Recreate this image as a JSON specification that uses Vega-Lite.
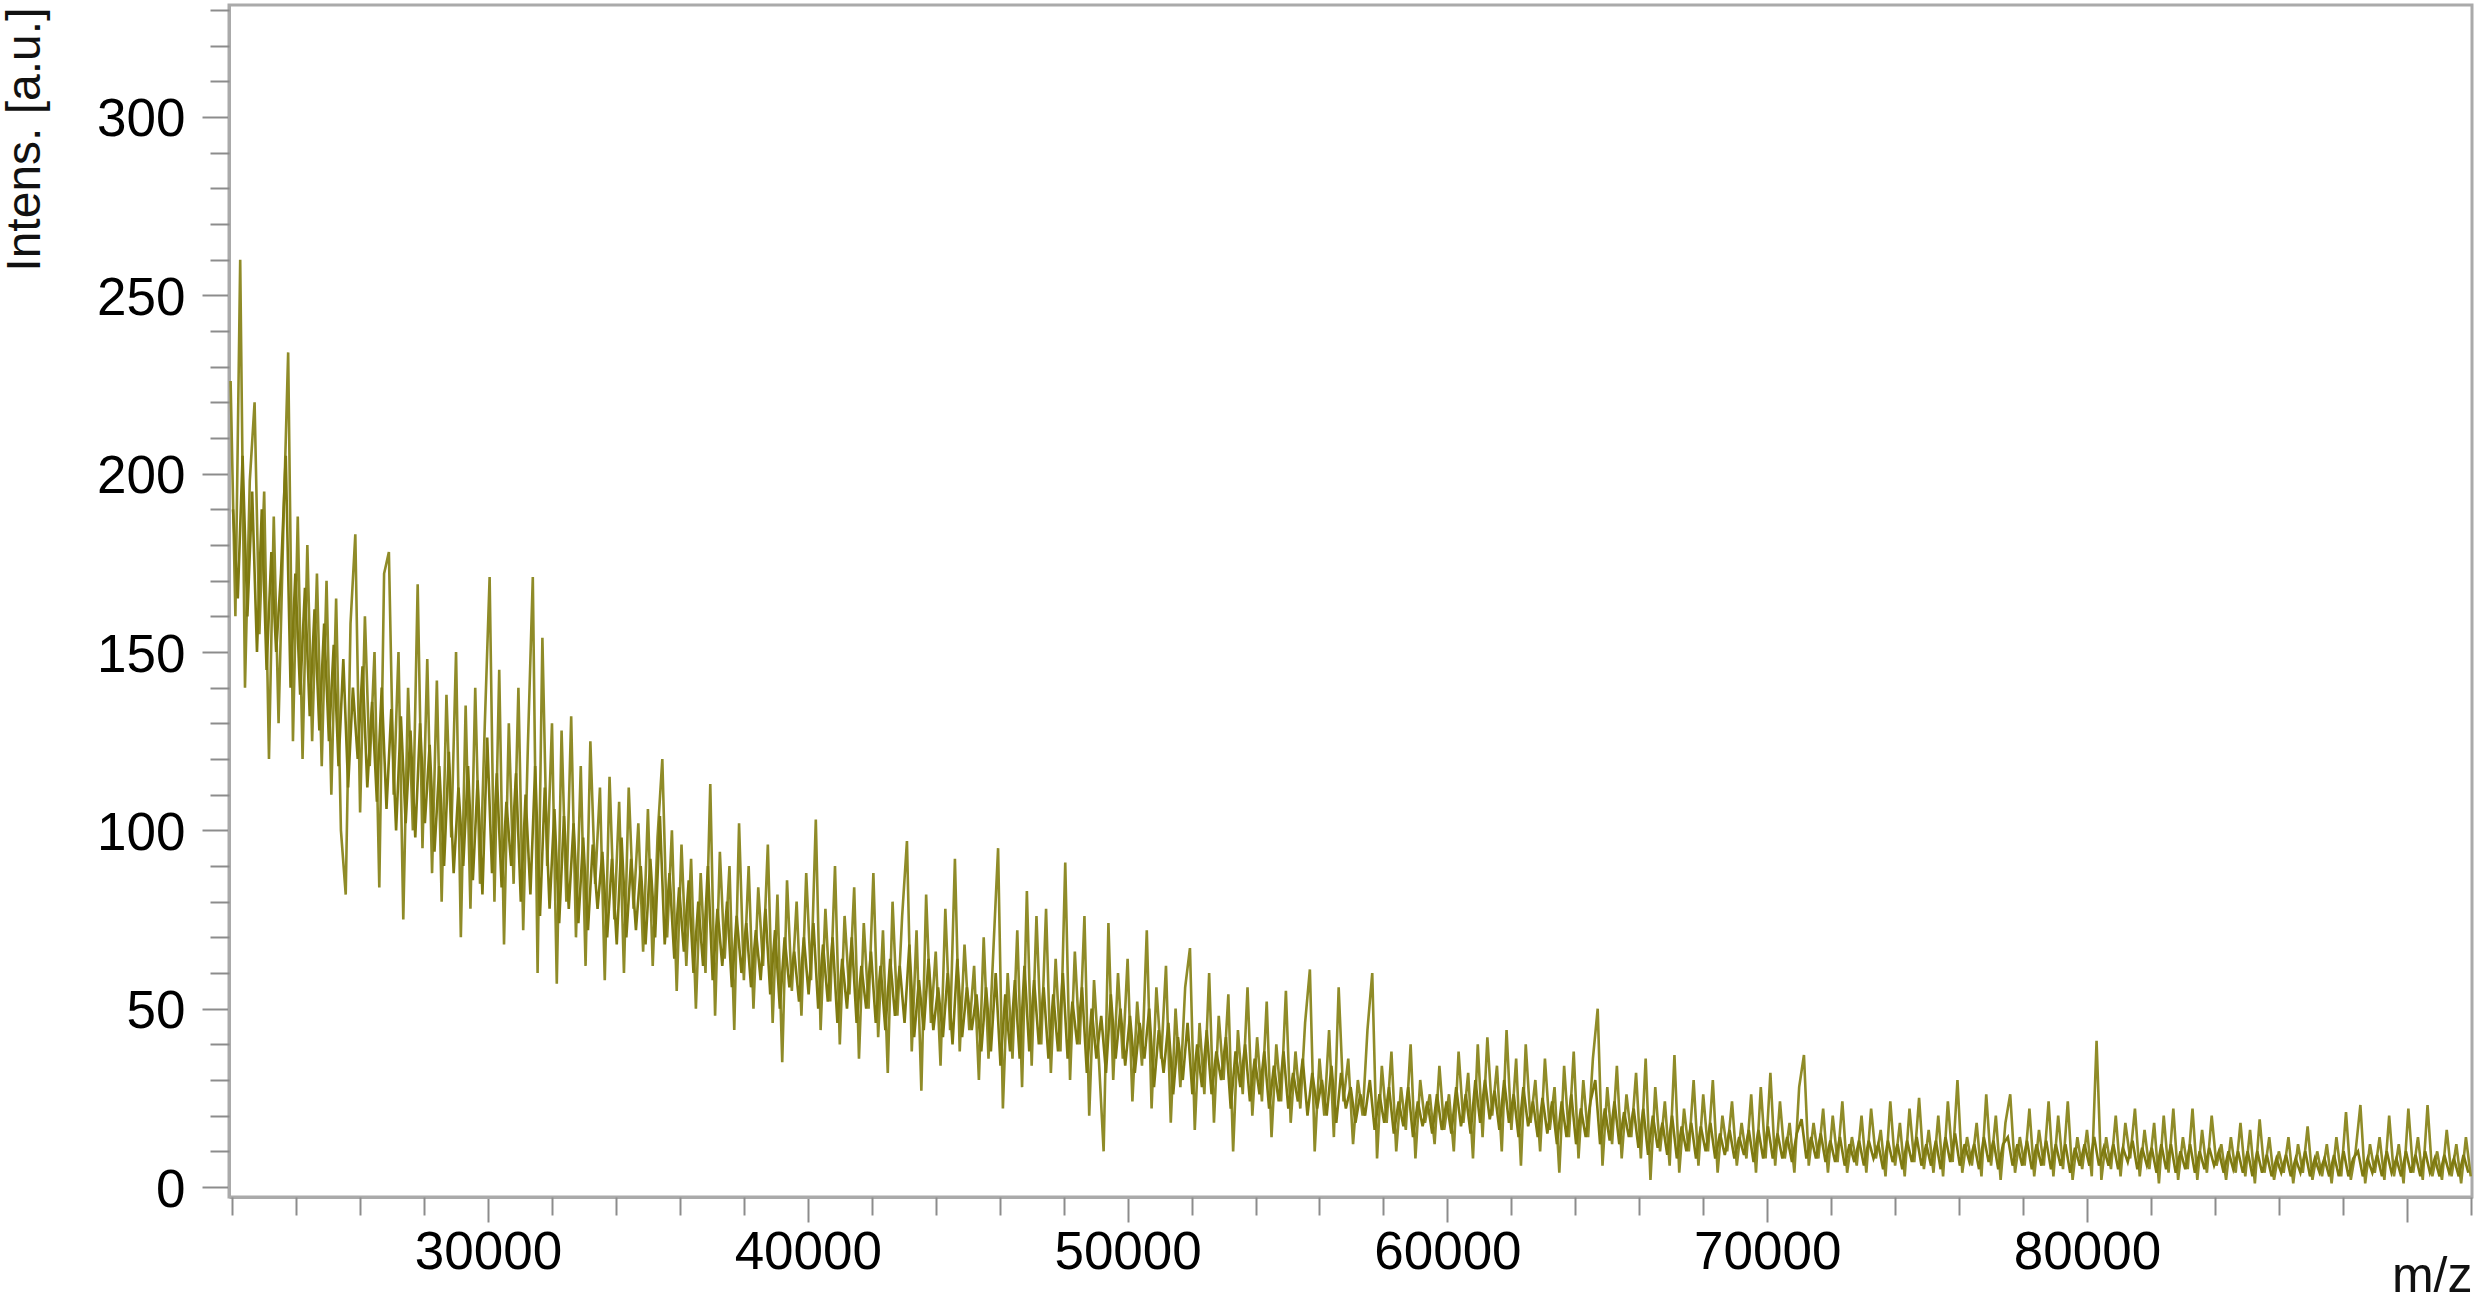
{"$schema":"https://vega.github.io/schema/vega-lite/v6.json","width":2243,"height":1192,"autosize":"none","padding":{"left":229,"top":5,"right":3,"bottom":103},"background":"white","config":{"view":{"stroke":"#aaaaaa","strokeWidth":3},"axis":{"grid":false,"labelFont":"Liberation Sans","titleFont":"Liberation Sans","labelFontSize":53,"titleFontSize":48,"labelColor":"#000000","titleColor":"#111111","titleFontWeight":"normal","tickColor":"#8c8c8c","tickWidth":2,"domainColor":"#aaaaaa","domainWidth":3}},"resolve":{"axis":{"x":"independent","y":"independent"}},"datasets":{"spikes":[
{"mz":21950,"i":226},{"mz":22100,"i":160},{"mz":22250,"i":260},{"mz":22400,"i":140},{"mz":22550,"i":198},{"mz":22700,"i":220},{"mz":22850,"i":155},{"mz":23000,"i":195},{"mz":23150,"i":120},{"mz":23300,"i":188},{"mz":23450,"i":130},{"mz":23600,"i":185},{"mz":23750,"i":234},{"mz":23900,"i":125},{"mz":24050,"i":188},{"mz":24200,"i":120},{"mz":24350,"i":180},{"mz":24500,"i":125},{"mz":24650,"i":172},{"mz":24800,"i":118},{"mz":24950,"i":170},{"mz":25100,"i":110},{"mz":25250,"i":165},{"mz":25400,"i":100},{"mz":25550,"i":82},{"mz":25700,"i":158},{"mz":25850,"i":183},{"mz":26000,"i":105},{"mz":26150,"i":160},{"mz":26300,"i":118},{"mz":26450,"i":150},{"mz":26600,"i":84},{"mz":26750,"i":172},{"mz":26900,"i":178},
{"mz":27050,"i":110},{"mz":27200,"i":150},{"mz":27350,"i":75},{"mz":27500,"i":140},{"mz":27650,"i":100},{"mz":27800,"i":169},{"mz":27950,"i":95},{"mz":28100,"i":148},{"mz":28250,"i":88},{"mz":28400,"i":142},{"mz":28550,"i":80},{"mz":28700,"i":138},{"mz":28850,"i":98},{"mz":29000,"i":150},{"mz":29150,"i":70},{"mz":29300,"i":135},{"mz":29450,"i":78},{"mz":29600,"i":140},{"mz":29750,"i":85},{"mz":29900,"i":130},{"mz":30050,"i":171},{"mz":30200,"i":80},{"mz":30350,"i":145},{"mz":30500,"i":68},{"mz":30650,"i":130},{"mz":30800,"i":85},{"mz":30950,"i":140},{"mz":31100,"i":72},{"mz":31250,"i":125},{"mz":31400,"i":171},{"mz":31550,"i":60},{"mz":31700,"i":154},{"mz":31850,"i":90},{"mz":32000,"i":130},{"mz":32150,"i":57},{"mz":32300,"i":128},{"mz":32450,"i":80},{"mz":32600,"i":132},{"mz":32750,"i":70},{"mz":32900,"i":118},{"mz":33050,"i":62},{"mz":33200,"i":125},{"mz":33350,"i":85},{"mz":33500,"i":112},{"mz":33650,"i":58},{"mz":33800,"i":115},{"mz":33950,"i":75},{"mz":34100,"i":108},{"mz":34250,"i":60},{"mz":34400,"i":112},{"mz":34550,"i":78},{"mz":34700,"i":102},{"mz":34850,"i":66},{"mz":35000,"i":106},{"mz":35150,"i":62},{"mz":35300,"i":98},{"mz":35450,"i":120},{"mz":35600,"i":70},{"mz":35750,"i":100},{"mz":35900,"i":55},
{"mz":36050,"i":96},{"mz":36200,"i":62},{"mz":36350,"i":92},{"mz":36500,"i":50},{"mz":36650,"i":88},{"mz":36800,"i":60},{"mz":36950,"i":113},{"mz":37100,"i":48},{"mz":37250,"i":94},{"mz":37400,"i":64},{"mz":37550,"i":90},{"mz":37700,"i":44},{"mz":37850,"i":102},{"mz":38000,"i":58},{"mz":38150,"i":90},{"mz":38300,"i":50},{"mz":38450,"i":84},{"mz":38600,"i":62},{"mz":38750,"i":96},{"mz":38900,"i":46},{"mz":39050,"i":82},{"mz":39200,"i":35},{"mz":39350,"i":86},{"mz":39500,"i":55},{"mz":39650,"i":80},{"mz":39800,"i":48},{"mz":39950,"i":88},{"mz":40100,"i":58},{"mz":40250,"i":103},{"mz":40400,"i":44},{"mz":40550,"i":78},{"mz":40700,"i":52},{"mz":40850,"i":90},{"mz":41000,"i":40},{"mz":41150,"i":76},{"mz":41300,"i":54},{"mz":41450,"i":84},{"mz":41600,"i":36},{"mz":41750,"i":74},{"mz":41900,"i":50},{"mz":42050,"i":88},{"mz":42200,"i":42},{"mz":42350,"i":72},{"mz":42500,"i":32},{"mz":42650,"i":80},{"mz":42800,"i":48},{"mz":42950,"i":76},{"mz":43100,"i":97},{"mz":43250,"i":38},{"mz":43400,"i":72},{"mz":43550,"i":27},{"mz":43700,"i":82},{"mz":43850,"i":46},{"mz":44000,"i":66},{"mz":44150,"i":34},{"mz":44300,"i":78},{"mz":44450,"i":44},{"mz":44600,"i":92},{"mz":44750,"i":38},{"mz":44900,"i":68},{"mz":45050,"i":44},{"mz":45200,"i":62},{"mz":45350,"i":30},{"mz":45500,"i":70},{"mz":45650,"i":36},{"mz":45800,"i":66},{"mz":45950,"i":95},{"mz":46100,"i":22},{"mz":46250,"i":60},{"mz":46400,"i":36},{"mz":46550,"i":72},{"mz":46700,"i":28},{"mz":46850,"i":83},{"mz":47000,"i":34},{"mz":47150,"i":76},{"mz":47300,"i":40},{"mz":47450,"i":78},{"mz":47600,"i":32},{"mz":47750,"i":64},{"mz":47900,"i":38},{"mz":48050,"i":91},{"mz":48200,"i":30},{"mz":48350,"i":66},{"mz":48500,"i":40},{"mz":48650,"i":76},{"mz":48800,"i":20},{"mz":48950,"i":58},{"mz":49100,"i":36},{"mz":49250,"i":10},{"mz":49400,"i":74},{"mz":49550,"i":30},{"mz":49700,"i":60},{"mz":49850,"i":36},{"mz":50000,"i":64},
{"mz":50150,"i":24},{"mz":50300,"i":52},{"mz":50450,"i":34},{"mz":50600,"i":72},{"mz":50750,"i":22},{"mz":50900,"i":56},{"mz":51050,"i":36},{"mz":51200,"i":62},{"mz":51350,"i":18},{"mz":51500,"i":50},{"mz":51650,"i":28},{"mz":51800,"i":56},{"mz":51950,"i":67},{"mz":52100,"i":16},{"mz":52250,"i":46},{"mz":52400,"i":26},{"mz":52550,"i":60},{"mz":52700,"i":18},{"mz":52850,"i":48},{"mz":53000,"i":30},{"mz":53150,"i":54},{"mz":53300,"i":10},{"mz":53450,"i":44},{"mz":53600,"i":26},{"mz":53750,"i":56},{"mz":53900,"i":20},{"mz":54050,"i":42},{"mz":54200,"i":24},{"mz":54350,"i":52},{"mz":54500,"i":14},{"mz":54650,"i":40},{"mz":54800,"i":24},{"mz":54950,"i":55},{"mz":55100,"i":18},{"mz":55250,"i":38},{"mz":55400,"i":22},{"mz":55550,"i":46},{"mz":55700,"i":61},{"mz":55850,"i":10},{"mz":56000,"i":36},{"mz":56150,"i":20},{"mz":56300,"i":44},{"mz":56450,"i":14},{"mz":56600,"i":56},{"mz":56750,"i":24},{"mz":56900,"i":36},{"mz":57050,"i":12},{"mz":57200,"i":30},{"mz":57350,"i":20},{"mz":57500,"i":44},{"mz":57650,"i":60},{"mz":57800,"i":8},{"mz":57950,"i":34},{"mz":58100,"i":18},{"mz":58250,"i":38},{"mz":58400,"i":10},{"mz":58550,"i":28},{"mz":58700,"i":16},{"mz":58850,"i":40},{"mz":59000,"i":8},{"mz":59150,"i":30},{"mz":59300,"i":18},{"mz":59450,"i":26},{"mz":59600,"i":12},{"mz":59750,"i":34},{"mz":59900,"i":16},{"mz":60050,"i":26},{"mz":60200,"i":10},{"mz":60350,"i":38},{"mz":60500,"i":18},{"mz":60650,"i":32},{"mz":60800,"i":8},{"mz":60950,"i":40},{"mz":61100,"i":14},{"mz":61250,"i":42},{"mz":61400,"i":20},{"mz":61550,"i":34},{"mz":61700,"i":10},{"mz":61850,"i":44},{"mz":62000,"i":16},{"mz":62150,"i":36},{"mz":62300,"i":6},{"mz":62450,"i":40},{"mz":62600,"i":18},{"mz":62750,"i":30},{"mz":62900,"i":10},{"mz":63050,"i":36},{"mz":63200,"i":16},{"mz":63350,"i":28},{"mz":63500,"i":4},{"mz":63650,"i":34},{"mz":63800,"i":14},{"mz":63950,"i":38},{"mz":64100,"i":8},{"mz":64250,"i":30},{"mz":64400,"i":14},{"mz":64550,"i":36},{"mz":64700,"i":50},{"mz":64850,"i":6},{"mz":65000,"i":28},{"mz":65150,"i":12},{"mz":65300,"i":34},{"mz":65450,"i":8},{"mz":65600,"i":26},{"mz":65750,"i":14},{"mz":65900,"i":32},{"mz":66050,"i":8},{"mz":66200,"i":36},{"mz":66350,"i":2},{"mz":66500,"i":28},{"mz":66650,"i":10},{"mz":66800,"i":24},{"mz":66950,"i":6},{"mz":67100,"i":37},{"mz":67250,"i":4},{"mz":67400,"i":22},{"mz":67550,"i":10},{"mz":67700,"i":30},{"mz":67850,"i":6},{"mz":68000,"i":26},{"mz":68150,"i":10},{"mz":68300,"i":30},{"mz":68450,"i":4},{"mz":68600,"i":20},{"mz":68750,"i":10},{"mz":68900,"i":24},{"mz":69050,"i":6},{"mz":69200,"i":18},{"mz":69350,"i":8},{"mz":69500,"i":26},{"mz":69650,"i":4},{"mz":69800,"i":28},{"mz":69950,"i":8},{"mz":70100,"i":32},
{"mz":70250,"i":6},{"mz":70400,"i":24},{"mz":70550,"i":8},{"mz":70700,"i":18},{"mz":70850,"i":4},{"mz":71000,"i":28},{"mz":71150,"i":37},{"mz":71300,"i":6},{"mz":71450,"i":18},{"mz":71600,"i":8},{"mz":71750,"i":22},{"mz":71900,"i":4},{"mz":72050,"i":20},{"mz":72200,"i":7},{"mz":72350,"i":24},{"mz":72500,"i":4},{"mz":72650,"i":14},{"mz":72800,"i":6},{"mz":72950,"i":20},{"mz":73100,"i":4},{"mz":73250,"i":22},{"mz":73400,"i":8},{"mz":73550,"i":16},{"mz":73700,"i":3},{"mz":73850,"i":24},{"mz":74000,"i":6},{"mz":74150,"i":18},{"mz":74300,"i":3},{"mz":74450,"i":22},{"mz":74600,"i":7},{"mz":74750,"i":25},{"mz":74900,"i":5},{"mz":75050,"i":16},{"mz":75200,"i":4},{"mz":75350,"i":20},{"mz":75500,"i":3},{"mz":75650,"i":24},{"mz":75800,"i":7},{"mz":75950,"i":30},{"mz":76100,"i":4},{"mz":76250,"i":14},{"mz":76400,"i":6},{"mz":76550,"i":18},{"mz":76700,"i":3},{"mz":76850,"i":26},{"mz":77000,"i":6},{"mz":77150,"i":20},{"mz":77300,"i":2},{"mz":77450,"i":18},{"mz":77600,"i":26},{"mz":77750,"i":4},{"mz":77900,"i":14},{"mz":78050,"i":6},{"mz":78200,"i":22},{"mz":78350,"i":3},{"mz":78500,"i":16},{"mz":78650,"i":6},{"mz":78800,"i":24},{"mz":78950,"i":3},{"mz":79100,"i":20},{"mz":79250,"i":5},{"mz":79400,"i":24},{"mz":79550,"i":2},{"mz":79700,"i":14},{"mz":79850,"i":5},{"mz":80000,"i":16},{"mz":80150,"i":3},{"mz":80300,"i":41},{"mz":80450,"i":2},{"mz":80600,"i":14},{"mz":80750,"i":5},{"mz":80900,"i":20},{"mz":81050,"i":3},{"mz":81200,"i":18},{"mz":81350,"i":8},{"mz":81500,"i":22},{"mz":81650,"i":3},{"mz":81800,"i":16},{"mz":81950,"i":5},{"mz":82100,"i":18},{"mz":82250,"i":1},{"mz":82400,"i":20},{"mz":82550,"i":4},{"mz":82700,"i":22},{"mz":82850,"i":2},{"mz":83000,"i":14},{"mz":83150,"i":5},{"mz":83300,"i":22},{"mz":83450,"i":2},{"mz":83600,"i":16},{"mz":83750,"i":4},{"mz":83900,"i":20},{"mz":84050,"i":6},{"mz":84200,"i":12},{"mz":84350,"i":2},{"mz":84500,"i":14},{"mz":84650,"i":4},{"mz":84800,"i":18},{"mz":84950,"i":3},{"mz":85100,"i":16},{"mz":85250,"i":1},{"mz":85400,"i":19},{"mz":85550,"i":4},{"mz":85700,"i":14},{"mz":85850,"i":2},{"mz":86000,"i":10},{"mz":86150,"i":4},{"mz":86300,"i":14},{"mz":86450,"i":1},{"mz":86600,"i":12},{"mz":86750,"i":4},{"mz":86900,"i":17},{"mz":87050,"i":2},{"mz":87200,"i":10},{"mz":87350,"i":3},{"mz":87500,"i":12},{"mz":87650,"i":1},{"mz":87800,"i":14},{"mz":87950,"i":3},{"mz":88100,"i":21},{"mz":88250,"i":2},{"mz":88400,"i":10},{"mz":88550,"i":23},{"mz":88700,"i":1},{"mz":88850,"i":12},{"mz":89000,"i":4},{"mz":89150,"i":14},{"mz":89300,"i":2},{"mz":89450,"i":20},{"mz":89600,"i":3},{"mz":89750,"i":12},{"mz":89900,"i":1},{"mz":90050,"i":22},{"mz":90200,"i":4},{"mz":90350,"i":14},{"mz":90500,"i":2},{"mz":90650,"i":23},{"mz":90800,"i":3},{"mz":90950,"i":10},{"mz":91100,"i":2},{"mz":91250,"i":16},{"mz":91400,"i":3},{"mz":91550,"i":12},{"mz":91700,"i":1},{"mz":91850,"i":14},{"mz":92000,"i":3}
],"core":[
{"mz":22025,"i":190},{"mz":22175,"i":165},{"mz":22325,"i":205},{"mz":22475,"i":160},{"mz":22625,"i":195},{"mz":22775,"i":150},{"mz":22925,"i":190},{"mz":23075,"i":145},{"mz":23225,"i":178},{"mz":23375,"i":150},{"mz":23525,"i":172},{"mz":23675,"i":205},{"mz":23825,"i":140},{"mz":23975,"i":172},{"mz":24125,"i":138},{"mz":24275,"i":168},{"mz":24425,"i":132},{"mz":24575,"i":162},{"mz":24725,"i":128},{"mz":24875,"i":158},{"mz":25025,"i":125},{"mz":25175,"i":152},{"mz":25325,"i":118},{"mz":25475,"i":148},{"mz":25625,"i":112},{"mz":25775,"i":140},{"mz":25925,"i":120},{"mz":26075,"i":146},{"mz":26225,"i":112},{"mz":26375,"i":136},{"mz":26525,"i":108},{"mz":26675,"i":140},{"mz":26825,"i":106},{"mz":26975,"i":134},
{"mz":27125,"i":100},{"mz":27275,"i":132},{"mz":27425,"i":102},{"mz":27575,"i":128},{"mz":27725,"i":98},{"mz":27875,"i":130},{"mz":28025,"i":102},{"mz":28175,"i":124},{"mz":28325,"i":94},{"mz":28475,"i":118},{"mz":28625,"i":90},{"mz":28775,"i":122},{"mz":28925,"i":88},{"mz":29075,"i":112},{"mz":29225,"i":90},{"mz":29375,"i":118},{"mz":29525,"i":86},{"mz":29675,"i":114},{"mz":29825,"i":82},{"mz":29975,"i":126},{"mz":30125,"i":88},{"mz":30275,"i":116},{"mz":30425,"i":84},{"mz":30575,"i":108},{"mz":30725,"i":90},{"mz":30875,"i":116},{"mz":31025,"i":80},{"mz":31175,"i":110},{"mz":31325,"i":82},{"mz":31475,"i":118},{"mz":31625,"i":76},{"mz":31775,"i":112},{"mz":31925,"i":78},{"mz":32075,"i":106},{"mz":32225,"i":74},{"mz":32375,"i":104},{"mz":32525,"i":78},{"mz":32675,"i":102},{"mz":32825,"i":74},{"mz":32975,"i":98},{"mz":33125,"i":72},{"mz":33275,"i":96},{"mz":33425,"i":78},{"mz":33575,"i":94},{"mz":33725,"i":70},{"mz":33875,"i":92},{"mz":34025,"i":68},{"mz":34175,"i":98},{"mz":34325,"i":70},{"mz":34475,"i":92},{"mz":34625,"i":72},{"mz":34775,"i":90},{"mz":34925,"i":68},{"mz":35075,"i":92},{"mz":35225,"i":70},{"mz":35375,"i":104},{"mz":35525,"i":68},{"mz":35675,"i":88},{"mz":35825,"i":64},
{"mz":35975,"i":84},{"mz":36125,"i":66},{"mz":36275,"i":86},{"mz":36425,"i":60},{"mz":36575,"i":80},{"mz":36725,"i":62},{"mz":36875,"i":90},{"mz":37025,"i":58},{"mz":37175,"i":78},{"mz":37325,"i":62},{"mz":37475,"i":80},{"mz":37625,"i":56},{"mz":37775,"i":76},{"mz":37925,"i":60},{"mz":38075,"i":74},{"mz":38225,"i":56},{"mz":38375,"i":72},{"mz":38525,"i":58},{"mz":38675,"i":78},{"mz":38825,"i":54},{"mz":38975,"i":72},{"mz":39125,"i":50},{"mz":39275,"i":70},{"mz":39425,"i":56},{"mz":39575,"i":66},{"mz":39725,"i":52},{"mz":39875,"i":70},{"mz":40025,"i":54},{"mz":40175,"i":74},{"mz":40325,"i":50},{"mz":40475,"i":68},{"mz":40625,"i":52},{"mz":40775,"i":70},{"mz":40925,"i":46},{"mz":41075,"i":64},{"mz":41225,"i":50},{"mz":41375,"i":70},{"mz":41525,"i":46},{"mz":41675,"i":62},{"mz":41825,"i":50},{"mz":41975,"i":66},{"mz":42125,"i":46},{"mz":42275,"i":62},{"mz":42425,"i":44},{"mz":42575,"i":64},{"mz":42725,"i":48},{"mz":42875,"i":62},{"mz":43025,"i":46},{"mz":43175,"i":68},{"mz":43325,"i":42},{"mz":43475,"i":58},{"mz":43625,"i":44},{"mz":43775,"i":64},{"mz":43925,"i":44},{"mz":44075,"i":56},{"mz":44225,"i":42},{"mz":44375,"i":60},{"mz":44525,"i":40},{"mz":44675,"i":64},{"mz":44825,"i":42},{"mz":44975,"i":56},{"mz":45125,"i":44},{"mz":45275,"i":54},{"mz":45425,"i":38},{"mz":45575,"i":56},{"mz":45725,"i":38},{"mz":45875,"i":60},{"mz":46025,"i":34},{"mz":46175,"i":54},{"mz":46325,"i":38},{"mz":46475,"i":58},{"mz":46625,"i":36},{"mz":46775,"i":62},{"mz":46925,"i":38},{"mz":47075,"i":58},{"mz":47225,"i":40},{"mz":47375,"i":56},{"mz":47525,"i":36},{"mz":47675,"i":54},{"mz":47825,"i":38},{"mz":47975,"i":60},{"mz":48125,"i":36},{"mz":48275,"i":52},{"mz":48425,"i":40},{"mz":48575,"i":56},{"mz":48725,"i":32},{"mz":48875,"i":50},{"mz":49025,"i":36},{"mz":49175,"i":48},{"mz":49325,"i":32},{"mz":49475,"i":54},{"mz":49625,"i":36},{"mz":49775,"i":50},{"mz":49925,"i":34},
{"mz":50075,"i":48},{"mz":50225,"i":32},{"mz":50375,"i":46},{"mz":50525,"i":36},{"mz":50675,"i":50},{"mz":50825,"i":28},{"mz":50975,"i":44},{"mz":51125,"i":32},{"mz":51275,"i":46},{"mz":51425,"i":26},{"mz":51575,"i":42},{"mz":51725,"i":30},{"mz":51875,"i":46},{"mz":52025,"i":26},{"mz":52175,"i":40},{"mz":52325,"i":28},{"mz":52475,"i":44},{"mz":52625,"i":26},{"mz":52775,"i":38},{"mz":52925,"i":30},{"mz":53075,"i":42},{"mz":53225,"i":22},{"mz":53375,"i":38},{"mz":53525,"i":28},{"mz":53675,"i":40},{"mz":53825,"i":24},{"mz":53975,"i":36},{"mz":54125,"i":26},{"mz":54275,"i":38},{"mz":54425,"i":22},{"mz":54575,"i":34},{"mz":54725,"i":24},{"mz":54875,"i":38},{"mz":55025,"i":22},{"mz":55175,"i":32},{"mz":55325,"i":24},{"mz":55475,"i":36},{"mz":55625,"i":20},{"mz":55775,"i":32},{"mz":55925,"i":22},{"mz":56075,"i":30},{"mz":56225,"i":20},{"mz":56375,"i":34},{"mz":56525,"i":18},{"mz":56675,"i":32},{"mz":56825,"i":22},{"mz":56975,"i":28},{"mz":57125,"i":18},{"mz":57275,"i":26},{"mz":57425,"i":20},{"mz":57575,"i":30},{"mz":57725,"i":16},{"mz":57875,"i":26},{"mz":58025,"i":18},{"mz":58175,"i":28},{"mz":58325,"i":15},{"mz":58475,"i":24},{"mz":58625,"i":17},{"mz":58775,"i":28},{"mz":58925,"i":14},{"mz":59075,"i":24},{"mz":59225,"i":17},{"mz":59375,"i":24},{"mz":59525,"i":15},{"mz":59675,"i":26},{"mz":59825,"i":16},{"mz":59975,"i":24},{"mz":60125,"i":15},{"mz":60275,"i":28},{"mz":60425,"i":17},{"mz":60575,"i":26},{"mz":60725,"i":15},{"mz":60875,"i":30},{"mz":61025,"i":18},{"mz":61175,"i":30},{"mz":61325,"i":19},{"mz":61475,"i":27},{"mz":61625,"i":16},{"mz":61775,"i":30},{"mz":61925,"i":18},{"mz":62075,"i":26},{"mz":62225,"i":14},{"mz":62375,"i":28},{"mz":62525,"i":17},{"mz":62675,"i":24},{"mz":62825,"i":14},{"mz":62975,"i":25},{"mz":63125,"i":15},{"mz":63275,"i":24},{"mz":63425,"i":12},{"mz":63575,"i":24},{"mz":63725,"i":14},{"mz":63875,"i":26},{"mz":64025,"i":12},{"mz":64175,"i":22},{"mz":64325,"i":14},{"mz":64475,"i":24},{"mz":64625,"i":30},{"mz":64775,"i":12},{"mz":64925,"i":22},{"mz":65075,"i":13},{"mz":65225,"i":24},{"mz":65375,"i":12},{"mz":65525,"i":21},{"mz":65675,"i":14},{"mz":65825,"i":22},{"mz":65975,"i":11},{"mz":66125,"i":22},{"mz":66275,"i":9},{"mz":66425,"i":20},{"mz":66575,"i":11},{"mz":66725,"i":18},{"mz":66875,"i":9},{"mz":67025,"i":20},{"mz":67175,"i":8},{"mz":67325,"i":17},{"mz":67475,"i":10},{"mz":67625,"i":18},{"mz":67775,"i":8},{"mz":67925,"i":17},{"mz":68075,"i":10},{"mz":68225,"i":18},{"mz":68375,"i":8},{"mz":68525,"i":15},{"mz":68675,"i":9},{"mz":68825,"i":16},{"mz":68975,"i":8},{"mz":69125,"i":14},{"mz":69275,"i":9},{"mz":69425,"i":16},{"mz":69575,"i":7},{"mz":69725,"i":16},{"mz":69875,"i":8},{"mz":70025,"i":17},
{"mz":70175,"i":8},{"mz":70325,"i":15},{"mz":70475,"i":8},{"mz":70625,"i":14},{"mz":70775,"i":7},{"mz":70925,"i":15},{"mz":71075,"i":19},{"mz":71225,"i":8},{"mz":71375,"i":14},{"mz":71525,"i":8},{"mz":71675,"i":15},{"mz":71825,"i":7},{"mz":71975,"i":13},{"mz":72125,"i":7},{"mz":72275,"i":14},{"mz":72425,"i":6},{"mz":72575,"i":12},{"mz":72725,"i":7},{"mz":72875,"i":13},{"mz":73025,"i":6},{"mz":73175,"i":13},{"mz":73325,"i":8},{"mz":73475,"i":12},{"mz":73625,"i":5},{"mz":73775,"i":13},{"mz":73925,"i":7},{"mz":74075,"i":12},{"mz":74225,"i":5},{"mz":74375,"i":13},{"mz":74525,"i":7},{"mz":74675,"i":14},{"mz":74825,"i":6},{"mz":74975,"i":12},{"mz":75125,"i":6},{"mz":75275,"i":13},{"mz":75425,"i":5},{"mz":75575,"i":14},{"mz":75725,"i":7},{"mz":75875,"i":15},{"mz":76025,"i":6},{"mz":76175,"i":12},{"mz":76325,"i":7},{"mz":76475,"i":12},{"mz":76625,"i":5},{"mz":76775,"i":14},{"mz":76925,"i":7},{"mz":77075,"i":13},{"mz":77225,"i":5},{"mz":77375,"i":12},{"mz":77525,"i":14},{"mz":77675,"i":6},{"mz":77825,"i":12},{"mz":77975,"i":6},{"mz":78125,"i":13},{"mz":78275,"i":5},{"mz":78425,"i":12},{"mz":78575,"i":6},{"mz":78725,"i":13},{"mz":78875,"i":5},{"mz":79025,"i":12},{"mz":79175,"i":6},{"mz":79325,"i":12},{"mz":79475,"i":4},{"mz":79625,"i":11},{"mz":79775,"i":6},{"mz":79925,"i":12},{"mz":80075,"i":6},{"mz":80225,"i":14},{"mz":80375,"i":6},{"mz":80525,"i":11},{"mz":80675,"i":6},{"mz":80825,"i":12},{"mz":80975,"i":5},{"mz":81125,"i":11},{"mz":81275,"i":7},{"mz":81425,"i":13},{"mz":81575,"i":5},{"mz":81725,"i":11},{"mz":81875,"i":6},{"mz":82025,"i":11},{"mz":82175,"i":4},{"mz":82325,"i":12},{"mz":82475,"i":5},{"mz":82625,"i":12},{"mz":82775,"i":4},{"mz":82925,"i":10},{"mz":83075,"i":5},{"mz":83225,"i":12},{"mz":83375,"i":4},{"mz":83525,"i":10},{"mz":83675,"i":5},{"mz":83825,"i":11},{"mz":83975,"i":6},{"mz":84125,"i":10},{"mz":84275,"i":4},{"mz":84425,"i":10},{"mz":84575,"i":5},{"mz":84725,"i":10},{"mz":84875,"i":4},{"mz":85025,"i":10},{"mz":85175,"i":3},{"mz":85325,"i":10},{"mz":85475,"i":4},{"mz":85625,"i":9},{"mz":85775,"i":3},{"mz":85925,"i":8},{"mz":86075,"i":4},{"mz":86225,"i":9},{"mz":86375,"i":3},{"mz":86525,"i":8},{"mz":86675,"i":4},{"mz":86825,"i":10},{"mz":86975,"i":3},{"mz":87125,"i":8},{"mz":87275,"i":4},{"mz":87425,"i":8},{"mz":87575,"i":3},{"mz":87725,"i":9},{"mz":87875,"i":3},{"mz":88025,"i":10},{"mz":88175,"i":3},{"mz":88325,"i":8},{"mz":88475,"i":10},{"mz":88625,"i":3},{"mz":88775,"i":8},{"mz":88925,"i":4},{"mz":89075,"i":9},{"mz":89225,"i":3},{"mz":89375,"i":10},{"mz":89525,"i":4},{"mz":89675,"i":8},{"mz":89825,"i":3},{"mz":89975,"i":10},{"mz":90125,"i":4},{"mz":90275,"i":9},{"mz":90425,"i":3},{"mz":90575,"i":10},{"mz":90725,"i":4},{"mz":90875,"i":8},{"mz":91025,"i":3},{"mz":91175,"i":9},{"mz":91325,"i":4},{"mz":91475,"i":8},{"mz":91625,"i":3},{"mz":91775,"i":9},{"mz":91925,"i":4}
]},"layer":[
{"data":{"name":"spikes"},"mark":{"type":"line","color":"#8f8b28","strokeWidth":2.6,"clip":true,"interpolate":"linear"},"encoding":{"x":{"field":"mz","type":"quantitative","scale":{"domain":[21900,92040],"nice":false,"zero":false},"axis":{"orient":"bottom","values":[30000,40000,50000,60000,70000,80000,90000],"labelExpr":"datum.value==90000?'':format(datum.value,'d')","tickSize":25,"labelPadding":4,"title":"m/z","titleFontSize":50,"titleX":2243,"titleY":94,"titleAlign":"right","titleBaseline":"alphabetic","grid":false}},"y":{"field":"i","type":"quantitative","scale":{"domain":[-2.8,331.4],"nice":false,"zero":false},"axis":{"orient":"left","values":[0,50,100,150,200,250,300],"tickSize":27,"labelPadding":17,"labelOffset":3,"title":"Intens. [a.u.]","titleAngle":-90,"titleAlign":"right","titleBaseline":"alphabetic","titleX":-190,"titleY":2,"grid":false}}}},
{"data":{"name":"core"},"mark":{"type":"line","color":"#7f7a10","strokeWidth":2.6,"clip":true,"interpolate":"linear"},"encoding":{"x":{"field":"mz","type":"quantitative","scale":{"domain":[21900,92040],"nice":false,"zero":false},"axis":{"orient":"bottom","values":[22000,24000,26000,28000,32000,34000,36000,38000,42000,44000,46000,48000,52000,54000,56000,58000,62000,64000,66000,68000,72000,74000,76000,78000,82000,84000,86000,88000,92000],"tickSize":18,"labels":false,"domain":false,"title":null,"grid":false}},"y":{"field":"i","type":"quantitative","scale":{"domain":[-2.8,331.4],"nice":false,"zero":false},"axis":{"orient":"left","values":[10,20,30,40,60,70,80,90,110,120,130,140,160,170,180,190,210,220,230,240,260,270,280,290,310,320,330],"tickSize":19,"labels":false,"domain":false,"title":null,"grid":false}}}}
]}
